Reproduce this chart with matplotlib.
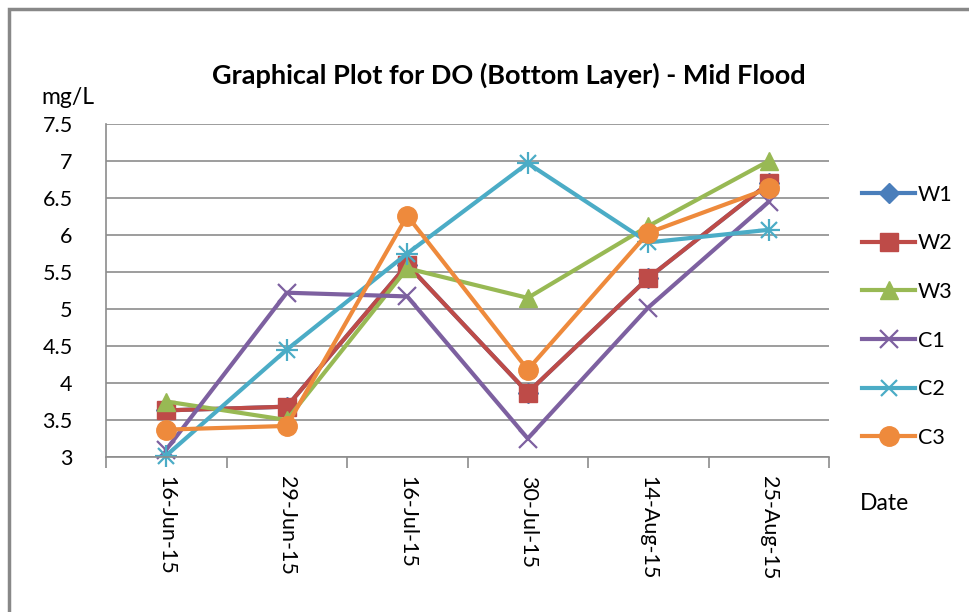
import matplotlib.pyplot as plt
from matplotlib.patches import Rectangle

# DO (bottom layer) - mid flood, mg/L
dates = ["16-Jun-15", "29-Jun-15", "16-Jul-15", "30-Jul-15", "14-Aug-15", "25-Aug-15"]
w1 = [3.63, 3.68, 5.60, 3.87, 5.42, 6.70]
w2 = [3.63, 3.68, 5.60, 3.87, 5.42, 6.70]
w3 = [3.75, 3.50, 5.55, 5.15, 6.12, 7.00]
c1 = [3.10, 5.22, 5.17, 3.25, 5.02, 6.45]
c2 = [3.02, 4.45, 5.75, 6.97, 5.90, 6.07]
c3 = [3.37, 3.42, 6.26, 4.18, 6.03, 6.63]

series = [
    ("W1", w1, "#4A7EBB", "D", 10),
    ("W2", w2, "#BE4B48", "s", 13),
    ("W3", w3, "#98B954", "^", 13),
    ("C1", c1, "#7D60A0", "x", 13),
    ("C2", c2, "#4BACC6", "*", 0),
    ("C3", c3, "#EE8A3C", "o", 14),
]

plt.rcParams['font.family'] = ['Lato', 'DejaVu Sans']

fig = plt.figure(figsize=(9.7, 6.12), dpi=100)
ax = fig.add_axes([106 / 970, 1 - 457 / 612, 723 / 970, 333 / 612])

# chart area border
fig.patches.append(Rectangle((9 / 970, -0.05), 1.1, 1 - 9 / 612 + 0.05,
                             transform=fig.transFigure, fill=False,
                             edgecolor="#888888", linewidth=2.5))

x = list(range(len(dates)))
for name, vals, col, mk, ms in series:
    if name == "C2":
        ax.plot(x, vals, color=col, linewidth=3, marker="x", markersize=12,
                markeredgewidth=1.6, label=name, clip_on=False)
        ax.plot(x, vals, color=col, linewidth=0, marker="+", markersize=16,
                markeredgewidth=1.6, clip_on=False)
    elif mk == "x":
        ax.plot(x, vals, color=col, linewidth=3, marker=mk, markersize=ms,
                markeredgewidth=1.6, label=name, clip_on=False)
    else:
        ax.plot(x, vals, color=col, linewidth=3, marker=mk, markersize=ms,
                markeredgecolor=col, label=name, clip_on=False)

ax.set_xlim(-0.5, len(dates) - 0.5)
ax.set_ylim(3, 7.5)
ax.set_yticks([3 + 0.5 * i for i in range(10)])
ax.set_yticklabels(["3", "3.5", "4", "4.5", "5", "5.5", "6", "6.5", "7", "7.5"], fontsize=15.5)
ax.yaxis.grid(True, color="#8C8C8C", linewidth=1.2)
ax.set_axisbelow(True)
ax.tick_params(axis="y", length=0, pad=24)

ax.set_xticks(x)
ax.set_xticklabels(dates, rotation=-90, fontsize=15.5)
ax.tick_params(axis="x", length=0, pad=14)
ax.set_xticks([i - 0.5 for i in range(len(dates) + 1)], minor=True)
ax.tick_params(axis="x", which="minor", length=8, color="#8C8C8C", width=1.2)

for s in ["top", "right"]:
    ax.spines[s].set_visible(False)
for s in ["left", "bottom"]:
    ax.spines[s].set_color("#8C8C8C")
    ax.spines[s].set_linewidth(1.2)

fig.text(509 / 970, 1 - 75 / 612, "Graphical Plot for DO (Bottom Layer) - Mid Flood",
         ha="center", va="center", fontsize=19.5, fontweight="bold")
fig.text(68 / 970, 1 - 98 / 612, "mg/L", ha="center", va="center", fontsize=16.5)
fig.text(885 / 970, 1 - 503 / 612, "Date", ha="center", va="center", fontsize=16.5)

fig.legend(loc="upper left", bbox_to_anchor=(853 / 970, 1 - 176 / 612),
           frameon=False, fontsize=15.5, labelspacing=1.33, handlelength=2.5,
           handletextpad=0.1, borderaxespad=0)

fig.savefig("out.png", dpi=100)
